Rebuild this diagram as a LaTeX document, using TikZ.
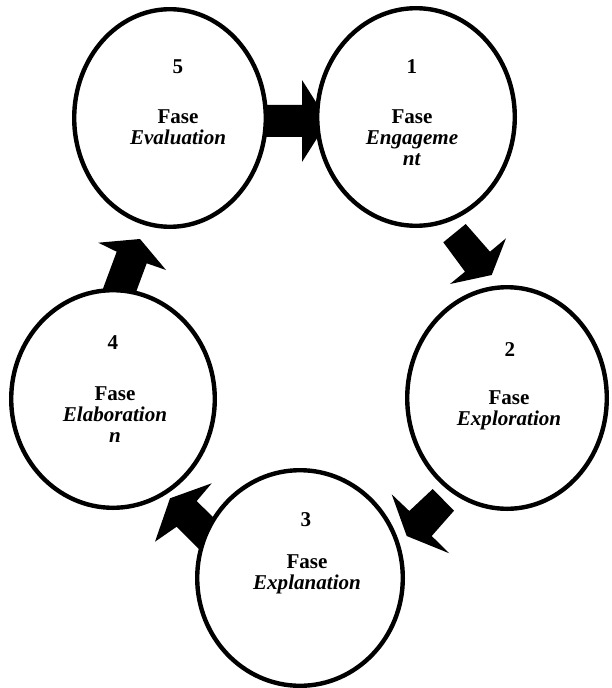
\documentclass[tikz,border=0pt]{standalone}
\usepackage{fontspec}
\setmainfont{Liberation Serif}
\usetikzlibrary{shapes.geometric}
\begin{document}
\begin{tikzpicture}[x=0.75pt,y=-0.75pt,
  phase/.style={draw=black,fill=white,ellipse,line width=3.3pt,inner sep=0pt},
  blockarrow/.style={fill=black,draw=none},
  numtxt/.style={font=\fontsize{15.8}{15.8}\selectfont\bfseries,inner sep=0pt,anchor=center},
  fasetxt/.style={font=\fontsize{15.8}{15.8}\selectfont\bfseries,inner sep=0pt,anchor=center,align=center}]
\useasboundingbox (0,0) rectangle (611,688);
% block arrows (drawn first, circles cover their ends)
\fill[blockarrow] (250,105) -- (302,105) -- (302,80) -- (328,121) -- (302,162) -- (302,137) -- (250,137) -- cycle;
\fill[blockarrow] (443.3,242.3) -- (465.7,224) -- (490,251.7) -- (506,238.3) -- (491.7,275) -- (450,284) -- (465,271.7) -- cycle;
\fill[blockarrow] (432.7,489) -- (454,510.7) -- (431.7,536) -- (449.3,553.3) -- (406.7,536) -- (391.7,494.3) -- (409.3,511) -- cycle;
\fill[blockarrow] (170,498.3) -- (211.7,483.3) -- (196.7,501) -- (235,539) -- (215,565) -- (176.7,526.7) -- (155,541.7) -- cycle;
\fill[blockarrow] (116.7,251.7) -- (98.3,242.7) -- (140,239) -- (166,270) -- (146.7,263.3) -- (127.5,315) -- (97.5,303.4) -- cycle;
% phase circles
\node[phase,minimum width=143.7pt,minimum height=163.2pt] (c5) at (170,118) {};
\node[phase,minimum width=148.2pt,minimum height=163.2pt] (c1) at (416,117) {};
\node[phase,minimum width=149.7pt,minimum height=166.2pt] (c2) at (507,398) {};
\node[phase,minimum width=154.2pt,minimum height=161.7pt] (c3) at (300,578) {};
\node[phase,minimum width=152.7pt,minimum height=163.2pt] (c4) at (113,399) {};
% texts
\node[numtxt] (n5) at (178,67) {5};
\node[fasetxt] (f5) at (178,127.5) {Fase\\\textit{Evaluation}};
\node[numtxt] (n1) at (412,67) {1};
\node[fasetxt] (f1) at (412,137.5) {Fase\\\textit{Engageme}\\\textit{nt}};
\node[numtxt] (n2) at (510,350) {2};
\node[fasetxt] (f2) at (509,410.5) {Fase\\\textit{Exploration}};
\node[numtxt] (n3) at (306,520) {3};
\node[fasetxt] (f3) at (307,574.5) {Fase\\\textit{Explanation}};
\node[numtxt] (n4) at (113,343) {4};
\node[fasetxt] (f4) at (115,415) {Fase\\\textit{Elaboration}\\\textit{n}};
\end{tikzpicture}
\end{document}
